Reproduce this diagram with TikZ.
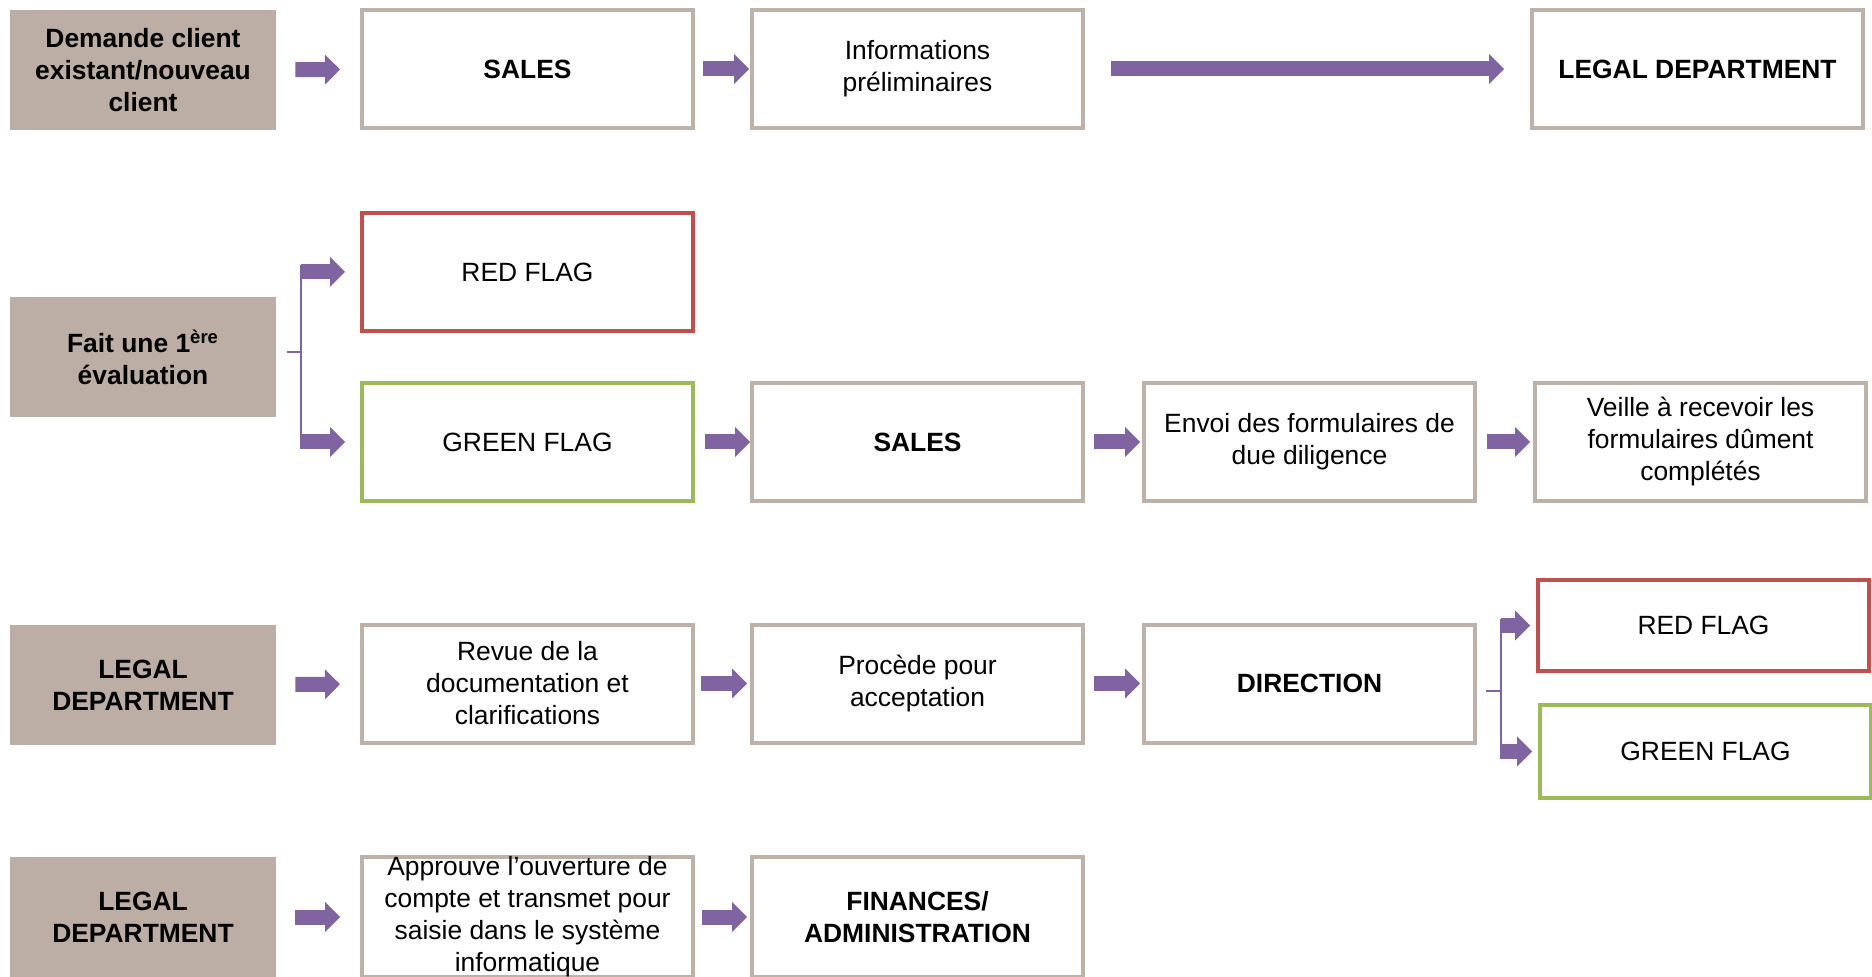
\documentclass[tikz,border=0pt]{standalone}
\usepackage{fontspec}
\setmainfont{Liberation Sans}
\usepackage{xcolor}
\usetikzlibrary{positioning}
\usetikzlibrary{arrows.meta}
\definecolor{greybox}{RGB}{188,174,164}
\definecolor{tanline}{RGB}{190,177,167}
\definecolor{arrowpurple}{RGB}{128,100,162}
\definecolor{flagred}{RGB}{192,80,77}
\definecolor{flaggreen}{RGB}{155,187,89}

\begin{document}
\begin{tikzpicture}[x=0.5pt,y=-0.5pt]
        \tikzstyle{actor}=[rectangle, fill=greybox, minimum width=133pt,
            minimum height=60pt, inner sep=2pt, align=center,
            font=\fontsize{13.2}{16}\selectfont\bfseries]
        \tikzstyle{stepbox}=[rectangle, draw=tanline, line width=2pt,
            fill=white, minimum width=165.5pt, minimum height=59pt,
            inner sep=2pt, align=center, font=\fontsize{13.2}{16}\selectfont]
        \tikzstyle{boldstep}=[stepbox,
            font=\fontsize{13.2}{16}\selectfont\bfseries]
        \tikzstyle{redflag}=[stepbox, draw=flagred]
        \tikzstyle{greenflag}=[stepbox, draw=flaggreen]
        \tikzstyle{blockarrow}=[draw=arrowpurple, line width=7.5pt,
            -{Triangle[length=7.5pt, width=15pt, line width=0pt]}]
        \tikzstyle{forkline}=[draw=arrowpurple, line width=1pt]

            \useasboundingbox (0,0) rectangle (1872,977);

            \node[actor] (g1) at (143,70) {Demande client\\existant/nouveau\\client};
            \node[actor] (g2) at (143,357.5) {Fait une 1\textsuperscript{ère}\\évaluation};
            \node[actor] (g3) at (143,685) {LEGAL\\DEPARTMENT};
            \node[actor] (g4) at (143,917) {LEGAL\\DEPARTMENT};

            \node[boldstep] (sales1) at (527.5,69) {SALES};
            \node[stepbox] (info) at (917.5,69) {Informations\\préliminaires};
            \node[boldstep] (legal1) at (1697.5,69) {LEGAL DEPARTMENT};

            \node[redflag] (red1) at (527.5,272) {RED FLAG};
            \node[greenflag] (green1) at (527.5,442) {GREEN FLAG};
            \node[boldstep] (sales2) at (917.5,442) {SALES};
            \node[stepbox] (envoi) at (1309.5,442)
            {Envoi des formulaires de\\due diligence};
            \node[stepbox] (veille) at (1700.5,442)
            {Veille à recevoir les\\formulaires dûment\\complétés};

            \node[stepbox] (revue) at (527.5,683.5)
            {Revue de la\\documentation et\\clarifications};
            \node[stepbox] (procede) at (917.5,683.5) {Procède pour\\acceptation};
            \node[boldstep] (direction) at (1309.5,683.5) {DIRECTION};
            \node[redflag, minimum height=45.5pt] (red2) at (1703.5,625.5) {RED FLAG};
            \node[greenflag, minimum height=46.5pt] (green2) at (1705.5,751.5)
            {GREEN FLAG};

            \node[stepbox, minimum height=60pt, inner sep=0pt] (approuve) at (527.5,917)
            {Approuve l’ouverture de\\compte et transmet pour\\saisie dans le système\\informatique};
            \node[boldstep, minimum height=60pt] (finances) at (917.5,917)
            {FINANCES/\\ADMINISTRATION};

            \coordinate (fork1) at (301,352);
            \coordinate (fork2) at (1501,691);

            \foreach \a/\b/\s/\t in {g1/sales1/9.5pt/10pt, sales1/info/4pt/0.5pt,
                info/legal1/13pt/13pt, green1/sales2/5pt/0pt, sales2/envoi/4.5pt/1pt,
                envoi/veille/5pt/1.5pt, g3/revue/9.5pt/10pt, revue/procede/3pt/1.5pt,
                procede/direction/4.5pt/1pt, g4/approuve/9.5pt/10pt,
                approuve/finances/3.5pt/1.5pt}
            {
                \draw[blockarrow, shorten <=\s, shorten >=\t] (\a) -- (\b);
            }

            \draw[forkline, shorten <=5.5pt] (g2.east |- fork1) -- (fork1);
            \draw[forkline, shorten <=-3.5pt, shorten >=-3.5pt]
            (fork1 |- red1) -- (fork1 |- green1);
            \foreach \t in {red1, green1}
            {
                \draw[blockarrow, shorten >=7.5pt] (fork1 |- \t) -- (\t);
            }

            \draw[forkline, shorten <=4.5pt] (direction.east |- fork2) -- (fork2);
            \draw[forkline, shorten <=-3.5pt, shorten >=-3.5pt]
            (fork2 |- red2) -- (fork2 |- green2);
            \foreach \t in {red2, green2}
            {
                \draw[blockarrow, shorten >=3pt] (fork2 |- \t) -- (\t);
            }
\end{tikzpicture}
\end{document}
